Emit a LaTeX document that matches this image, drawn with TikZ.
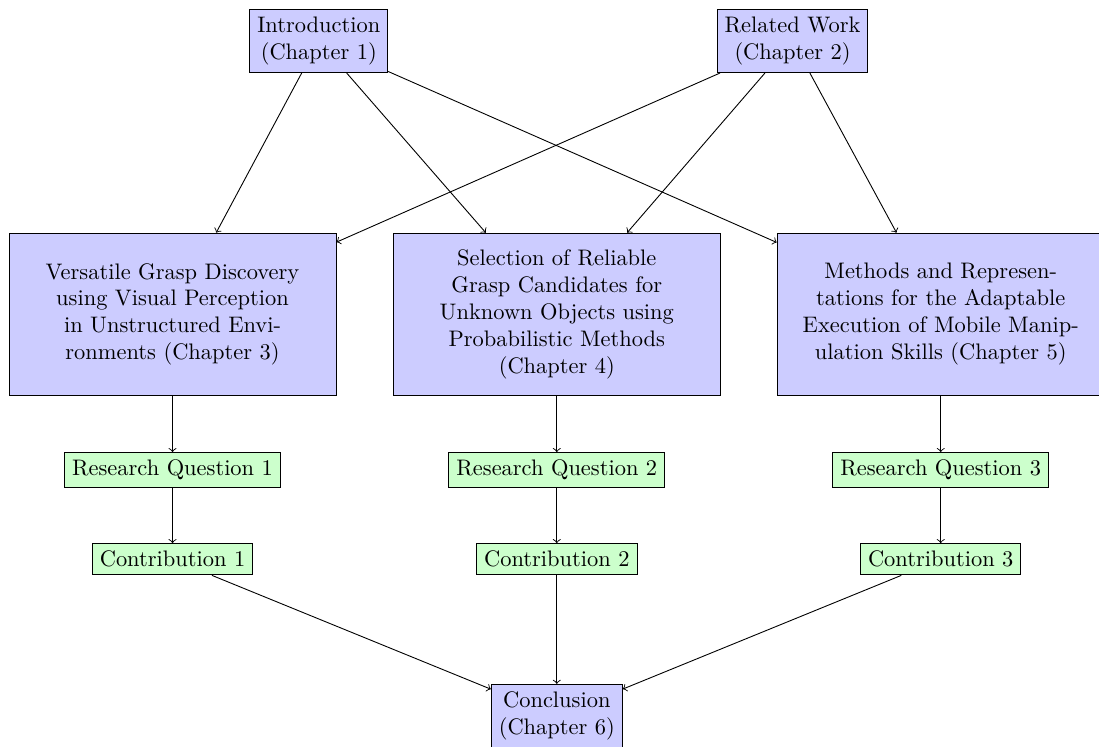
\documentclass[tikz,border=0pt]{standalone}
\begin{document}
\begin{tikzpicture}[x=1pt,y=1pt,
  chapter/.style={draw, fill=blue!20, align=center},
  bigchapter/.style={chapter, minimum width=145.7pt, minimum height=72.3pt},
  question/.style={draw, fill=green!20},
  link/.style={->}]
\useasboundingbox (0,0) rectangle (489.5,-332.7);

% source chapters
\node[chapter] (intro)   at (142.0,-18.26) {Introduction\\(Chapter 1)};
\node[chapter] (related) at (353.0,-18.26) {Related Work\\(Chapter 2)};

% main chapters
\node[bigchapter] (c3) at (76.84,-140.0)
  {Versatile Grasp Discovery\\using Visual Perception\\in Unstructured Envi-\\ronments (Chapter 3)};
\node[bigchapter] (c4) at (248.0,-140.0)
  {Selection of Reliable\\Grasp Candidates for\\Unknown Objects using\\Probabilistic Methods\\(Chapter 4)};
\node[bigchapter] (c5) at (419.0,-140.0)
  {Methods and Represen-\\tations for the Adaptable\\Execution of Mobile Manip-\\ulation Skills (Chapter 5)};

% research questions and contributions
\node[question] (rq1) at (76.84,-209.4) {Research Question 1};
\node[question] (rq2) at (248.0,-209.4) {Research Question 2};
\node[question] (rq3) at (419.0,-209.4) {Research Question 3};
\node[question] (co1) at (76.84,-249.1) {Contribution 1};
\node[question] (co2) at (248.0,-249.1) {Contribution 2};
\node[question] (co3) at (419.0,-249.1) {Contribution 3};

% conclusion
\node[chapter] (concl) at (248.0,-318.9) {Conclusion\\(Chapter 6)};

% connections
\foreach \src in {intro,related}
  \foreach \dst in {c3,c4,c5}
    \draw[link] (\src) -- (\dst);
\draw[link] (c3) -- (rq1);
\draw[link] (c4) -- (rq2);
\draw[link] (c5) -- (rq3);
\draw[link] (rq1) -- (co1);
\draw[link] (rq2) -- (co2);
\draw[link] (rq3) -- (co3);
\draw[link] (co1) -- (concl);
\draw[link] (co2) -- (concl);
\draw[link] (co3) -- (concl);
\end{tikzpicture}
\end{document}
